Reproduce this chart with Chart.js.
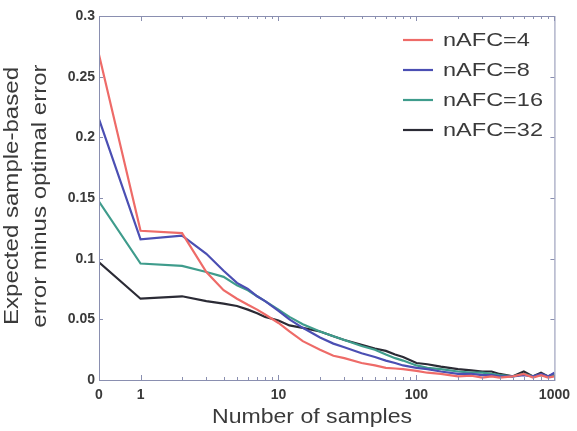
<!DOCTYPE html>
<html>
<head>
<meta charset="utf-8">
<script src="https://cdn.jsdelivr.net/npm/chart.js@4"></script>
<style>
  body { margin: 0; background: #fff; }
  canvas { display: block; }
</style>
</head>
<body>
<canvas id="errChart" width="577" height="431"></canvas>
<script>
//=================Data===================//
var nSamples = [0, 1, 2, 3, 4, 5, 6, 7, 8, 10, 12, 15, 20, 25, 30, 40, 50, 60, 70, 80, 100, 120, 150, 200, 250, 300, 350, 400, 500, 600, 700, 800, 900, 1000];
var afc4  = [0.268, 0.123, 0.121, 0.089, 0.074, 0.067, 0.062, 0.058, 0.054, 0.047, 0.040, 0.032, 0.025, 0.020, 0.018, 0.014, 0.012, 0.010, 0.0095, 0.009, 0.0075, 0.006, 0.005, 0.003, 0.0035, 0.002, 0.003, 0.002, 0.003, 0.005, 0.002, 0.004, 0.002, 0.003];
var afc8  = [0.215, 0.116, 0.119, 0.104, 0.090, 0.080, 0.075, 0.069, 0.065, 0.057, 0.050, 0.043, 0.035, 0.030, 0.027, 0.022, 0.019, 0.016, 0.014, 0.012, 0.010, 0.009, 0.007, 0.005, 0.005, 0.004, 0.004, 0.003, 0.003, 0.004, 0.003, 0.005, 0.003, 0.006];
var afc16 = [0.147, 0.096, 0.094, 0.089, 0.085, 0.078, 0.074, 0.069, 0.065, 0.058, 0.052, 0.046, 0.040, 0.036, 0.033, 0.028, 0.025, 0.021, 0.018, 0.016, 0.012, 0.010, 0.009, 0.007, 0.006, 0.006, 0.005, 0.004, 0.003, 0.005, 0.003, 0.004, 0.003, 0.004];
var afc32 = [0.097, 0.067, 0.069, 0.065, 0.063, 0.061, 0.058, 0.055, 0.052, 0.049, 0.045, 0.043, 0.040, 0.036, 0.033, 0.029, 0.026, 0.024, 0.021, 0.019, 0.014, 0.013, 0.011, 0.009, 0.008, 0.007, 0.007, 0.005, 0.003, 0.007, 0.003, 0.006, 0.003, 0.005];
var seriesNames = ['nAFC=4', 'nAFC=8', 'nAFC=16', 'nAFC=32'];
var seriesColors = ['#ee6b68', '#4b4fb3', '#3f9c8c', '#2b2b35'];
var xTickValues = [0, 1, 10, 100, 1000];
var yTicks = [0, 0.05, 0.1, 0.15, 0.2, 0.25, 0.3];
var xTitle = 'Number of samples';
var yTitle = ['Expected sample-based', 'error minus optimal error'];

// zero samples sits half a decade left of 1 on the log axis
var ZERO_POS = 0.5;
function xPos(n) { return n === 0 ? ZERO_POS : n; }

function toPoints(values) {
  return values.map(function(v, i) { return { x: xPos(nSamples[i]), y: v }; });
}

var allSeries = [afc4, afc8, afc16, afc32];
var datasets = allSeries.map(function(vals, i) {
  return {
    label: seriesNames[i],
    data: toPoints(vals),
    borderColor: seriesColors[i],
    backgroundColor: seriesColors[i],
    borderWidth: 2.2,
    pointRadius: 0,
    tension: 0
  };
});

var FRAME = '#8a8fb0';
var TEXT = '#3a3a3a';
var FONT = '"Liberation Sans", Arial, sans-serif';

//=================Plugins=================//
// box around the plot + inward tick marks like the original figure
var framePlugin = {
  id: 'frame',
  afterDatasetsDraw: function(chart) {
    var ctx = chart.ctx;
    var a = chart.chartArea;
    var xs = chart.scales.x;
    var ys = chart.scales.y;
    ctx.save();
    ctx.strokeStyle = FRAME;
    ctx.lineWidth = 1;
    ctx.strokeRect(a.left + 0.5, a.top + 0.5, a.right - a.left, a.bottom - a.top);
    ctx.beginPath();
    // minor ticks for each decade
    for (var d = 1; d <= 100; d *= 10) {
      for (var k = 2; k <= 9; k++) {
        var px = Math.round(xs.getPixelForValue(k * d)) + 0.5;
        ctx.moveTo(px, a.bottom); ctx.lineTo(px, a.bottom - 3);
        ctx.moveTo(px, a.top); ctx.lineTo(px, a.top + 3);
      }
    }
    xTickValues.forEach(function(n) {
      var px = Math.round(xs.getPixelForValue(xPos(n))) + 0.5;
      ctx.moveTo(px, a.bottom); ctx.lineTo(px, a.bottom - 5);
      ctx.moveTo(px, a.top); ctx.lineTo(px, a.top + 5);
    });
    yTicks.forEach(function(v) {
      var py = Math.round(ys.getPixelForValue(v)) + 0.5;
      ctx.moveTo(a.left, py); ctx.lineTo(a.left + 4, py);
      ctx.moveTo(a.right, py); ctx.lineTo(a.right - 4, py);
    });
    ctx.stroke();
    ctx.restore();
  }
};

// draw text squeezed/stretched to a given length (the source figure is not square-scaled)
function fitText(ctx, text, x, y, len, align, rotated, sx) {
  ctx.save();
  ctx.translate(x, y);
  if (rotated) ctx.rotate(-Math.PI / 2);
  var s = sx || len / ctx.measureText(text).width;
  ctx.scale(s, 1);
  ctx.textAlign = align;
  ctx.fillText(text, 0, 0);
  ctx.restore();
}

// legend in the top right corner and the axis titles
var labelPlugin = {
  id: 'labels',
  afterDraw: function(chart) {
    var ctx = chart.ctx;
    ctx.save();
    ctx.textBaseline = 'middle';
    ctx.fillStyle = TEXT;
    ctx.font = '19px ' + FONT;
    var legendScale = 100 / ctx.measureText('nAFC=16').width;
    for (var i = 0; i < seriesNames.length; i++) {
      var y = 40 + i * 30;
      ctx.strokeStyle = seriesColors[i];
      ctx.lineWidth = 2.2;
      ctx.beginPath();
      ctx.moveTo(403, y);
      ctx.lineTo(433, y);
      ctx.stroke();
      fitText(ctx, seriesNames[i], 443, y + 1, 0, 'left', false, legendScale);
    }
    ctx.font = '21px ' + FONT;
    fitText(ctx, xTitle, 312, 417, 200, 'center', false);
    fitText(ctx, yTitle[0], 12, 196, 258, 'center', true);
    ctx.font = '21px ' + FONT;
    var s2 = 258 / ctx.measureText(yTitle[0]).width;
    fitText(ctx, yTitle[1], 40, 196, 0, 'center', true, s2);
    ctx.restore();
  }
};

//=================Chart===================//
var ctx = document.getElementById('errChart').getContext('2d');
var errChart = new Chart(ctx, {
  type: 'line',
  data: { datasets: datasets },
  options: {
    responsive: false,
    animation: false,
    layout: { padding: { left: 0, top: 16, right: 19, bottom: 0 } },
    plugins: { legend: { display: false }, tooltip: { enabled: false } },
    scales: {
      x: {
        type: 'logarithmic',
        min: ZERO_POS,
        max: 1000,
        afterBuildTicks: function(scale) {
          scale.ticks = xTickValues.map(function(n) { return { value: xPos(n) }; });
        },
        afterFit: function(scale) { scale.height = 51; },
        grid: { display: false, drawTicks: false },
        border: { display: false },
        ticks: {
          autoSkip: false,
          maxRotation: 0,
          padding: 7,
          color: TEXT,
          font: { family: FONT, size: 14, weight: 'bold' },
          callback: function(v) { return v === ZERO_POS ? '0' : String(v); }
        }
      },
      y: {
        min: 0,
        max: 0.3,
        afterBuildTicks: function(scale) {
          scale.ticks = yTicks.map(function(v) { return { value: v }; });
        },
        afterFit: function(scale) { scale.width = 99; },
        grid: { display: false, drawTicks: false },
        border: { display: false },
        ticks: {
          padding: 4,
          color: TEXT,
          font: { family: FONT, size: 14, weight: 'bold' },
          callback: function(v) { return String(Number(v.toFixed(2))); }
        }
      }
    }
  },
  plugins: [framePlugin, labelPlugin]
});
</script>
</body>
</html>
